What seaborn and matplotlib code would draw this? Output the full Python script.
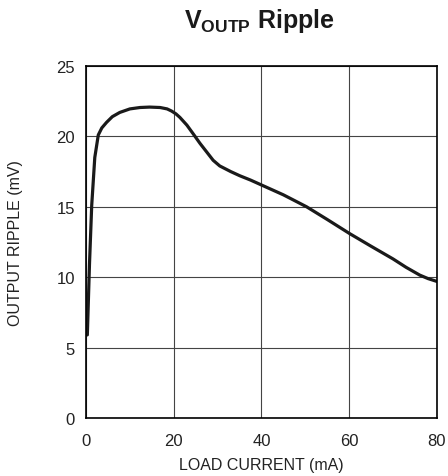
import pandas as pd
import matplotlib.pyplot as plt
import seaborn as sns
from matplotlib import font_manager

# values
load_current = [0.3, 0.8, 1.3, 2.0, 2.8, 3.6, 4.7, 6.0, 7.7, 10.0, 12.3, 14.5, 16.9,
                18.5, 19.5, 20.5, 21.4, 23.0, 24.4, 26.0, 27.5, 29.0, 30.5, 33.0,
                35.1, 37.5, 40.0, 42.5, 45.0, 47.5, 50.3, 55.0, 60.1, 65.0, 70.0,
                73.0, 76.1, 78.0, 80.0]
ripple = [5.9, 11.0, 15.1, 18.5, 20.1, 20.6, 21.0, 21.4, 21.7, 21.95, 22.05, 22.08, 22.05,
          21.95, 21.8, 21.6, 21.35, 20.8, 20.2, 19.5, 18.9, 18.3, 17.9, 17.5,
          17.2, 16.9, 16.55, 16.2, 15.85, 15.45, 15.0, 14.1, 13.1, 12.2, 11.3,
          10.7, 10.15, 9.9, 9.7]

df = pd.DataFrame({'LOAD CURRENT (mA)': load_current, 'OUTPUT RIPPLE (mV)': ripple})

sns.set_style('white')
names = {f.name for f in font_manager.fontManager.ttflist}
narrow = 'Liberation Sans Narrow' if 'Liberation Sans Narrow' in names else 'Liberation Sans'
plt.rcParams['font.family'] = [narrow, 'DejaVu Sans']
plt.rcParams['mathtext.fontset'] = 'custom'
plt.rcParams['mathtext.rm'] = narrow
plt.rcParams['mathtext.bf'] = narrow + ':bold'

fig = plt.figure(figsize=(4.48, 4.77), dpi=100)
ax = fig.add_axes([0.192, 0.1216, 0.783, 0.738])
sns.lineplot(data=df, x='LOAD CURRENT (mA)', y='OUTPUT RIPPLE (mV)',
             color='#1a1a1a', linewidth=2.3, ax=ax)

ax.set_xlim(0, 80)
ax.set_ylim(0, 25)
ax.set_xticks([0, 20, 40, 60, 80])
ax.set_yticks([0, 5, 10, 15, 20, 25])
ax.grid(True, color='#444444', linewidth=0.8)
for s in ax.spines.values():
    s.set_color('black')
    s.set_linewidth(1.2)
ax.tick_params(length=0, labelsize=12, colors='#222222')
ax.tick_params(axis='x', pad=11)
ax.tick_params(axis='y', pad=8)
ax.set_xlabel('LOAD CURRENT (mA)', fontsize=11.5, color='#222222', labelpad=6)
ax.set_ylabel('OUTPUT RIPPLE (mV)', fontsize=11.5, color='#222222', labelpad=24)

fig.text(0.578, 0.955, r'$\mathbf{V}_{\mathbf{OUTP}}$ Ripple', ha='center', va='center',
         fontsize=18, fontweight='bold', color='#1a1a1a')

fig.savefig('out.png', dpi=100)
